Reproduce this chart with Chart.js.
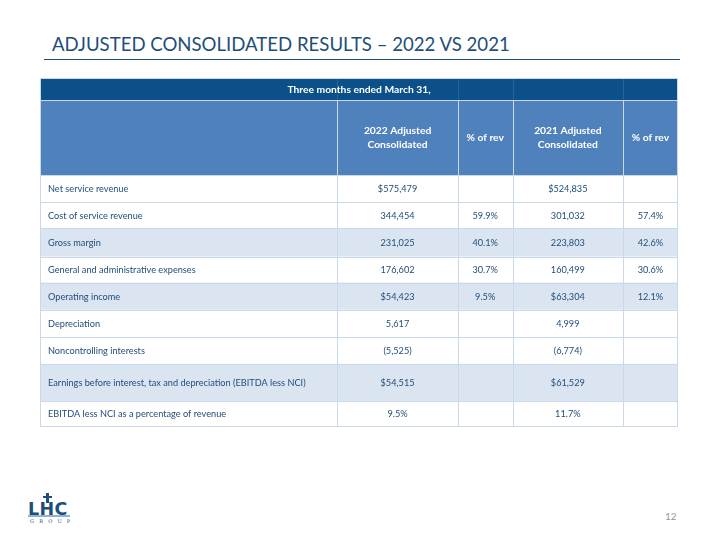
<!DOCTYPE html>
<html>
<head>
<meta charset="utf-8">
<script src="https://cdn.jsdelivr.net/npm/chart.js@4.4.1/dist/chart.umd.min.js"></script>
<style>
  html, body { margin: 0; padding: 0; background: #fff; }
  body { width: 720px; height: 540px; position: relative; overflow: hidden; font-family: Lato, "Open Sans", sans-serif; }
  #title { position: absolute; left: 52px; top: 33px; font-size: 18.6px; color: #1F4E79; white-space: nowrap; }
  #rule { position: absolute; left: 44px; top: 59px; width: 636px; border-top: 1.4px solid #1F4E79; }
  #wrap { position: absolute; left: 40px; top: 78px; width: 638px; height: 349px; }
  #pageNum { position: absolute; left: 665px; top: 510px; font-size: 10px; color: #999; }
  #logo { position: absolute; left: 28px; top: 490px; width: 48px; height: 36px; color: #1F4E79; }
  #logo .lhc { position: absolute; left: 0; top: 11px; font-family: "DejaVu Sans", sans-serif; font-weight: bold; font-size: 17.5px; letter-spacing: 0.4px; line-height: 16px; }
  #logo .bar { position: absolute; left: 0; top: 25px; width: 42px; height: 2px; background: #8fb3d6; }
  #logo .grp { position: absolute; left: 2px; top: 28px; font-size: 5px; line-height: 6px; letter-spacing: 5.2px; font-family: "DejaVu Serif", serif; }
  #logo .cv { position: absolute; left: 18px; top: 3px; width: 3px; height: 10px; background: #1F4E79; }
  #logo .ch { position: absolute; left: 15px; top: 6px; width: 9px; height: 2px; background: #1F4E79; }
</style>
</head>
<body>
<div id="title">ADJUSTED CONSOLIDATED RESULTS – 2022 VS 2021</div>
<div id="rule"></div>
<div id="wrap"><canvas id="tbl"></canvas></div>
<div id="logo"><div class="cv"></div><div class="ch"></div><div class="lhc">LHC</div><div class="bar"></div><div class="grp">GROUP</div></div>
<div id="pageNum">12</div>
<script>
// --- Table content ---
const periodHeader = 'Three months ended March 31,';
const columnHeaders = ['', '2022 Adjusted\nConsolidated', '% of rev', '2021 Adjusted\nConsolidated', '% of rev'];
const rowLabels = [
  'Net service revenue',
  'Cost of service revenue',
  'Gross margin',
  'General and administrative expenses',
  'Operating income',
  'Depreciation',
  'Noncontrolling interests',
  'Earnings before interest, tax and depreciation (EBITDA less NCI)',
  'EBITDA less NCI as a percentage of revenue'
];
const adjusted2022 = ['$575,479', '344,454', '231,025', '176,602', '$54,423', '5,617', '(5,525)', '$54,515', '9.5%'];
const pctRev2022 = ['', '59.9%', '40.1%', '30.7%', '9.5%', '', '', '', ''];
const adjusted2021 = ['$524,835', '301,032', '223,803', '160,499', '$63,304', '4,999', '(6,774)', '$61,529', '11.7%'];
const pctRev2021 = ['', '57.4%', '42.6%', '30.6%', '12.1%', '', '', '', ''];
const shadedRows = [2, 4, 7];

// --- Layout (table units) ---
const colWidths = [297, 120, 55, 110, 55];
const rowHeights = [22, 75, 27, 26, 28, 26, 27, 27, 27, 37, 26];

const colEdges = [0];
colWidths.forEach(w => colEdges.push(colEdges[colEdges.length - 1] + w));
const rowEdges = [0];
rowHeights.forEach(h => rowEdges.push(rowEdges[rowEdges.length - 1] + h));

const FONT = 'Lato, "Open Sans", sans-serif';
const DARK = '#0B5089', MID = '#4F81BD', LIGHT = '#DBE5F1', GRID = '#C9D8EB', TEXT = '#224E7A';

const tablePlugin = {
  id: 'tablePlugin',
  afterDraw(chart) {
    const ctx = chart.ctx;
    const xs = chart.scales.x, ys = chart.scales.y;
    const X = v => xs.getPixelForValue(v);
    const Y = v => ys.getPixelForValue(v);
    const x0 = X(0), x1 = X(colEdges[colEdges.length - 1]);

    ctx.save();
    // header rows
    ctx.fillStyle = DARK;
    ctx.fillRect(x0, Y(rowEdges[0]), x1 - x0, Y(rowEdges[1]) - Y(rowEdges[0]));
    ctx.fillStyle = MID;
    ctx.fillRect(x0, Y(rowEdges[1]), x1 - x0, Y(rowEdges[2]) - Y(rowEdges[1]));
    // banded rows
    shadedRows.forEach(r => {
      ctx.fillStyle = LIGHT;
      ctx.fillRect(x0, Y(rowEdges[r + 2]), x1 - x0, Y(rowEdges[r + 3]) - Y(rowEdges[r + 2]));
    });

    // grid lines
    ctx.lineWidth = 1;
    ctx.strokeStyle = GRID;
    for (let i = 1; i < rowEdges.length - 1; i++) {
      const y = Math.round(Y(rowEdges[i])) + 0.5;
      ctx.beginPath(); ctx.moveTo(x0, y); ctx.lineTo(x1, y); ctx.stroke();
    }
    for (let j = 1; j < colEdges.length - 1; j++) {
      const x = Math.round(X(colEdges[j])) + 0.5;
      ctx.beginPath(); ctx.moveTo(x, Y(rowEdges[1])); ctx.lineTo(x, Y(rowEdges[rowEdges.length - 1])); ctx.stroke();
      ctx.strokeStyle = 'rgba(255,255,255,0.12)';
      ctx.beginPath(); ctx.moveTo(x, Y(rowEdges[0])); ctx.lineTo(x, Y(rowEdges[1])); ctx.stroke();
      ctx.strokeStyle = GRID;
    }
    ctx.strokeRect(Math.round(x0) + 0.5, Math.round(Y(0)) + 0.5, Math.round(x1 - x0) - 1, Math.round(Y(rowEdges[rowEdges.length - 1]) - Y(0)) - 1);

    // header text
    ctx.fillStyle = '#fff';
    ctx.textBaseline = 'middle';
    ctx.textAlign = 'center';
    ctx.font = 'bold 10.3px ' + FONT;
    ctx.fillText(periodHeader, (x0 + x1) / 2, (Y(rowEdges[0]) + Y(rowEdges[1])) / 2 + 0.5);
    columnHeaders.forEach((h, j) => {
      if (!h) return;
      const cx = (X(colEdges[j]) + X(colEdges[j + 1])) / 2;
      const cy = (Y(rowEdges[1]) + Y(rowEdges[2])) / 2 + 0.5;
      const lines = h.split('\n');
      lines.forEach((ln, k) => {
        ctx.fillText(ln, cx, cy + (k - (lines.length - 1) / 2) * 14);
      });
    });

    // body text
    ctx.fillStyle = TEXT;
    ctx.font = '9.2px ' + FONT;
    const cols = [rowLabels, adjusted2022, pctRev2022, adjusted2021, pctRev2021];
    rowLabels.forEach((_, r) => {
      const cy = (Y(rowEdges[r + 2]) + Y(rowEdges[r + 3])) / 2 + 0.5;
      cols.forEach((col, j) => {
        const v = col[r];
        if (!v) return;
        if (j === 0) {
          ctx.textAlign = 'left';
          ctx.fillText(v, X(colEdges[0]) + 8, cy);
        } else {
          ctx.textAlign = 'center';
          ctx.fillText(v, (X(colEdges[j]) + X(colEdges[j + 1])) / 2, cy);
        }
      });
    });
    ctx.restore();
  }
};

new Chart(document.getElementById('tbl'), {
  type: 'scatter',
  data: { datasets: [{ data: [] }] },
  options: {
    responsive: true,
    maintainAspectRatio: false,
    animation: false,
    events: [],
    layout: { padding: 0 },
    plugins: { legend: { display: false }, tooltip: { enabled: false } },
    scales: {
      x: { type: 'linear', display: false, min: 0, max: colEdges[colEdges.length - 1] },
      y: { type: 'linear', display: false, reverse: true, min: 0, max: rowEdges[rowEdges.length - 1] }
    }
  },
  plugins: [tablePlugin]
});
</script>
</body>
</html>
